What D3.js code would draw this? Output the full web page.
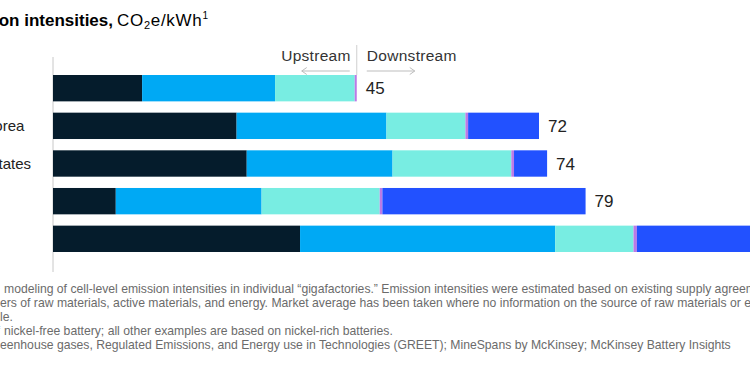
<!DOCTYPE html>
<html>
<head>
<meta charset="utf-8">
<script src="https://cdn.jsdelivr.net/npm/d3@7"></script>
<style>
  body { margin: 0; background: #fff; }
  svg { display: block; font-family: "Liberation Sans", Arial, sans-serif; }
</style>
</head>
<body>
<div id="chart"></div>
<script>
// rows (left part of the labels is cropped off in the reference)
const regions = ["China²", "South Korea", "United States", "Europe", "China"];
const totals = [45, 72, 74, 79, 107];

// stacked segments, kg CO2e/kWh
const stage1 = [13.2, 27.2, 28.7, 9.3, 36.6];
const stage2 = [19.7, 22.2, 21.6, 21.6, 37.8];
const stage3 = [11.8, 11.7, 17.6, 17.5, 11.6];
const stage4 = [0.3, 0.4, 0.4, 0.4, 0.5];
const stage5 = [0, 10.5, 4.9, 30.1, 20];

const keys = ["stage1", "stage2", "stage3", "stage4", "stage5"];
const colors = ["#051c2c", "#00a9f4", "#78ede2", "#bc7ae6", "#2251ff"];

const footnotes = [
  ["¹Based on", "modeling of cell-level emission intensities in individual “gigafactories.” Emission intensities were estimated based on existing supply agreements with"],
  ["Cells sourced from suppli", "ers of raw materials, active materials, and energy. Market average has been taken where no information on the source of raw materials or energy was"],
  ["availab", "le."],
  ["²Example of", "nickel-free battery; all other examples are based on nickel-rich batteries."],
  ["Source: Gr", "eenhouse gases, Regulated Emissions, and Energy use in Technologies (GREET); MineSpans by McKinsey; McKinsey Battery Insights"]
];
const noteX = [4, 0, 0, 4, 0];

const width = 750, height = 375;

const svg = d3.select("#chart").append("svg")
  .attr("width", width)
  .attr("height", height);

const rows = regions.map((r, i) => ({
  region: r, total: totals[i],
  stage1: stage1[i], stage2: stage2[i], stage3: stage3[i], stage4: stage4[i], stage5: stage5[i]
}));

const x = d3.scaleLinear().domain([0, 100]).range([53, 728]);
const y = d3.scaleBand().domain(regions).range([75, 252]).paddingInner(0.3).paddingOuter(0);

const stacked = d3.stack().keys(keys)(rows);

// title
const title = svg.append("g");
title.append("text")
  .attr("x", 113).attr("y", 26)
  .attr("text-anchor", "end")
  .attr("font-size", 17).attr("font-weight", "bold").attr("fill", "#000")
  .text("Cradle-to-gate emission intensities,");
const unit = title.append("text")
  .attr("x", 117).attr("y", 26)
  .attr("font-size", 17).attr("fill", "#000")
  .attr("letter-spacing", 0.7);
unit.append("tspan").text("CO");
unit.append("tspan").attr("font-size", 11).attr("dy", 3).text("2");
unit.append("tspan").attr("dy", -3).text("e/kWh");
unit.append("tspan").attr("font-size", 10).attr("dy", -7).text("1");

// baseline
svg.append("line")
  .attr("x1", x(0)).attr("x2", x(0))
  .attr("y1", 57).attr("y2", 272)
  .attr("stroke", "#c8c8c8").attr("stroke-width", 1);

// bars
svg.append("g").selectAll("g")
  .data(stacked)
  .join("g")
  .attr("fill", (d, i) => colors[i])
  .selectAll("rect")
  .data(d => d)
  .join("rect")
  .attr("x", d => x(d[0]))
  .attr("y", d => y(d.data.region))
  .attr("width", d => Math.max(0, x(d[1]) - x(d[0])))
  .attr("height", y.bandwidth());

// region labels
svg.append("g").selectAll("text")
  .data(rows)
  .join("text")
  .attr("x", -59)
  .attr("y", d => y(d.region) + y.bandwidth() / 2)
  .attr("dy", "0.35em")
  .attr("font-size", 15).attr("fill", "#222")
  .text(d => d.region);

// totals
svg.append("g").selectAll("text")
  .data(rows)
  .join("text")
  .attr("x", d => x(d.stage1 + d.stage2 + d.stage3 + d.stage4 + d.stage5) + 9)
  .attr("y", d => y(d.region) + y.bandwidth() / 2)
  .attr("dy", "0.36em")
  .attr("font-size", 17).attr("fill", "#222")
  .text(d => d.total);

// upstream / downstream marker on the first row
const split = x(stage1[0] + stage2[0] + stage3[0] + stage4[0]);
svg.append("line")
  .attr("x1", split).attr("x2", split)
  .attr("y1", 45).attr("y2", y(regions[0]))
  .attr("stroke", "#cfcfcf").attr("stroke-width", 1);

svg.append("text")
  .attr("x", split - 6).attr("y", 61)
  .attr("text-anchor", "end")
  .attr("font-size", 15.5).attr("fill", "#333")
  .attr("letter-spacing", 0.3)
  .text("Upstream");
svg.append("text")
  .attr("x", split + 10).attr("y", 61)
  .attr("font-size", 15.5).attr("fill", "#333")
  .attr("letter-spacing", 0.3)
  .text("Downstream");

const arrowColor = "#bdbdbd";
const arrows = svg.append("g").attr("stroke", arrowColor).attr("fill", "none").attr("stroke-width", 1);
// left arrow
arrows.append("path").attr("d", `M${split - 7},71 H${split - 55}`);
arrows.append("path").attr("d", `M${split - 50},67.5 L${split - 55},71 L${split - 50},74.5`);
// right arrow
arrows.append("path").attr("d", `M${split + 10},71 H${split + 58}`);
arrows.append("path").attr("d", `M${split + 53},67.5 L${split + 58},71 L${split + 53},74.5`);

// footnotes
const noteY = [293, 307, 321, 335, 349];
const notes = svg.append("g").attr("font-size", 12.2).attr("fill", "#6b6b6b");
footnotes.forEach((f, i) => {
  notes.append("text")
    .attr("x", noteX[i] - 4).attr("y", noteY[i])
    .attr("text-anchor", "end")
    .text(f[0]);
  notes.append("text")
    .attr("x", noteX[i]).attr("y", noteY[i])
    .text(f[1]);
});
</script>
</body>
</html>
